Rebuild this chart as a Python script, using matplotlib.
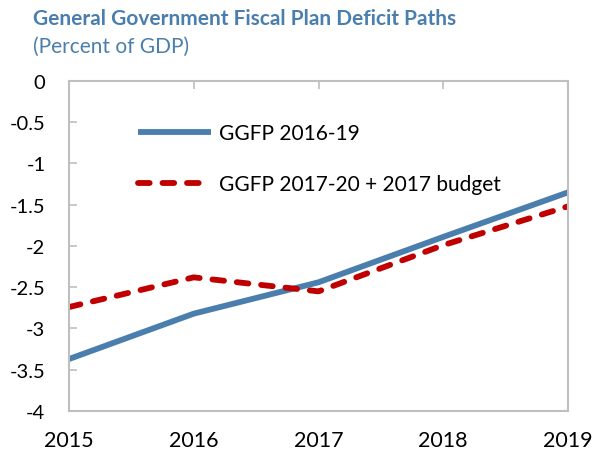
import matplotlib.pyplot as plt

years = [2015, 2016, 2017, 2018, 2019]
ggfp_2016_19 = [-3.37, -2.82, -2.44, -1.89, -1.35]
ggfp_2017_20 = [-2.74, -2.38, -2.55, -1.99, -1.52]
yticks = [0, -0.5, -1, -1.5, -2, -2.5, -3, -3.5, -4]

plt.rcParams['font.family'] = ['Lato', 'DejaVu Sans']

fig = plt.figure(figsize=(5.94, 4.56), dpi=100)
ax = fig.add_axes([0.1162, 0.0965, 0.84, 0.7237])

ax.plot(years, ggfp_2016_19, color='#4a7fad', lw=4.2, solid_capstyle='butt',
        label='GGFP 2016-19')
ax.plot(years, ggfp_2017_20, color='#c00000', lw=4.2, dashes=(2.0, 2.2),
        dash_capstyle='round', label='GGFP 2017-20 + 2017 budget')

ax.set_xlim(2015, 2019)
ax.set_ylim(-4, 0)
ax.set_yticks(yticks)
ax.set_yticklabels(['0', '-0.5', '-1', '-1.5', '-2', '-2.5', '-3', '-3.5', '-4'])
ax.set_xticks(years)

for s in ax.spines.values():
    s.set_color('#bfbfbf')
    s.set_linewidth(1.5)

# x ticks hang from the top edge (axis crosses at zero), labels stay at the bottom
ax.tick_params(axis='x', direction='in', top=True, bottom=False, length=6,
               color='#bfbfbf', width=1.2, labelsize=15.5, pad=14)
ax.tick_params(axis='y', direction='in', length=6, color='#bfbfbf', width=1.2,
               labelsize=14.5, pad=17)

leg = ax.legend(loc='upper left', bbox_to_anchor=(0.1, 0.93), frameon=False,
                fontsize=15, handlelength=3.5, labelspacing=1.5, handletextpad=0.4)

fig.text(0.055, 0.945, 'General Government Fiscal Plan Deficit Paths',
         fontsize=15, fontweight='bold', color='#4a7fad', va='baseline')
fig.text(0.055, 0.885, '(Percent of GDP)', fontsize=15, color='#4a7fad',
         va='baseline')

fig.savefig('out.png', dpi=100)
